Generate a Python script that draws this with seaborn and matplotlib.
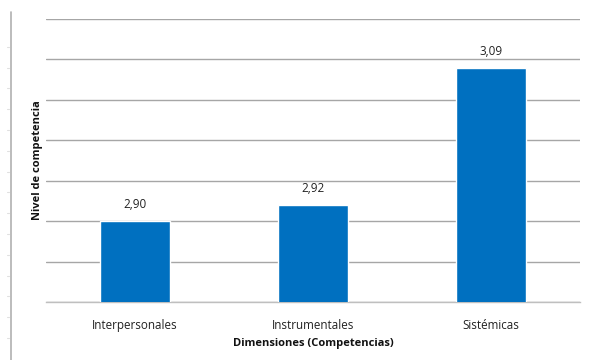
import matplotlib
matplotlib.use("Agg")
import matplotlib.pyplot as plt
import seaborn as sns
import pandas as pd
from matplotlib.lines import Line2D

# Data
categories = ["Interpersonales", "Instrumentales", "Sistémicas"]
values = [2.90, 2.92, 3.09]
value_labels = ["2,90", "2,92", "3,09"]

df = pd.DataFrame({"Dimension": categories, "Nivel": values})

sns.set_theme(style="white")
plt.rcParams["font.family"] = ["Open Sans", "DejaVu Sans"]

fig = plt.figure(figsize=(5.92, 3.60), dpi=100)
ax = fig.add_axes([46 / 592, 1 - 302 / 360, 534 / 592, 283 / 360])

sns.barplot(data=df, x="Dimension", y="Nivel", color="#0070C0",
            saturation=1, width=0.39, ax=ax, zorder=3)

ax.set_ylim(2.80, 3.15)
ax.set_xlim(-0.5, 2.5)
ax.set_yticks([2.80 + 0.05 * i for i in range(8)])
ax.yaxis.grid(True, color="#a6a6a6", linewidth=1.0, zorder=0)
ax.tick_params(axis="y", left=False, labelleft=False)
ax.tick_params(axis="x", bottom=False, labelsize=8.4, colors="#222222", pad=6)

for s in ["top", "right", "left"]:
    ax.spines[s].set_visible(False)
ax.spines["bottom"].set_color("#bfbfbf")
ax.spines["bottom"].set_linewidth(1.0)

for i, (v, lab) in enumerate(zip(values, value_labels)):
    ax.annotate(lab, (i, v), xytext=(0, 7), textcoords="offset points",
                ha="center", va="bottom", fontsize=8.4, color="#222222")

ax.set_xlabel("Dimensiones (Competencias)", fontsize=8.0, fontweight="bold",
              color="#111111", labelpad=4.5)
ax.set_ylabel("Nivel de competencia", fontsize=8.0, fontweight="bold",
              color="#111111", labelpad=0)
ax.yaxis.set_label_coords(-3 / 534, 0.5)

# Ruler-like vertical line at the left edge
fig.add_artist(Line2D([10.5 / 592, 10.5 / 592], [0, 1 - 12 / 360],
                      transform=fig.transFigure, color="#b0b0b0", linewidth=1.2))
tick_y = [46.7 + 20.8 * k for k in range(15)]
for ty in tick_y:
    fig.add_artist(Line2D([6.5 / 592, 9 / 592], [1 - ty / 360, 1 - ty / 360],
                          transform=fig.transFigure, color="#e0e0e0", linewidth=0.8))

fig.savefig("out.png", dpi=100, facecolor="white")
